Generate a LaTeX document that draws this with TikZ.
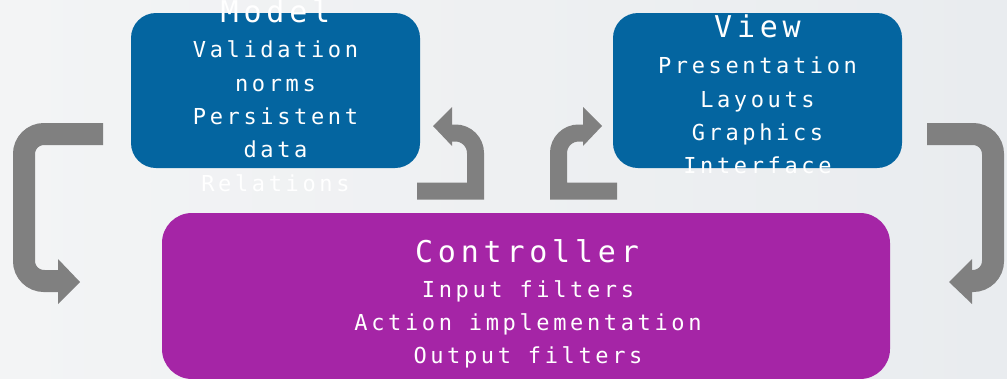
\documentclass[tikz,border=0pt]{standalone}
\usepackage{fontspec}
\newfontfamily\monoitem[LetterSpace=16.5]{DejaVu Sans Mono}
\newfontfamily\monotitle[LetterSpace=16]{DejaVu Sans Mono}
\definecolor{mvcblue}{RGB}{4,101,160}
\definecolor{mvcpurple}{RGB}{165,37,166}
\definecolor{arrowgray}{RGB}{128,128,128}
\definecolor{bgA}{RGB}{243,244,245}
\definecolor{bgB}{RGB}{233,236,239}
\tikzset{
  bluebox/.style={draw=none, fill=mvcblue, rounded corners=25pt, inner sep=0pt},
  purplebox/.style={draw=none, fill=mvcpurple, rounded corners=30pt, inner sep=0pt},
  titletext/.style={text=white, anchor=base, inner sep=0pt, font=\monotitle\fontsize{30}{32}\selectfont},
  itemtext/.style={text=white, anchor=base, inner sep=0pt, font=\monoitem\fontsize{22}{24}\selectfont},
  bigshaft/.style={draw=arrowgray, line width=22pt, line cap=butt, line join=miter},
  smallshaft/.style={draw=arrowgray, line width=17pt, line cap=butt, line join=miter},
  headfill/.style={fill=arrowgray, draw=none}
}
\begin{document}
\begin{tikzpicture}[x=1pt, y=-1pt]
\useasboundingbox (0,0) rectangle (1007,378);
\shade[left color=bgA, right color=bgB] (0,0) rectangle (1007,378);

% boxes
\node[bluebox, minimum width=289pt, minimum height=155pt] (model) at (275.5,90.5) {};
\node[bluebox, minimum width=289pt, minimum height=155pt] (view) at (757.5,90.5) {};
\node[purplebox, minimum width=728pt, minimum height=166pt] (ctrl) at (526,296) {};

% Model text
\node[titletext] (mT) at (275.5,22) {Model};
\node[itemtext] (m1) at (275.5,57) {Validation};
\node[itemtext] (m2) at (275.5,91) {norms};
\node[itemtext] (m3) at (275.5,124) {Persistent};
\node[itemtext] (m4) at (275.5,157) {data};
\node[itemtext] (m5) at (275.5,191) {Relations};

% View text
\node[titletext] (vT) at (757.5,37) {View};
\node[itemtext] (v1) at (757.5,73) {Presentation};
\node[itemtext] (v2) at (757.5,107) {Layouts};
\node[itemtext] (v3) at (757.5,140) {Graphics};
\node[itemtext] (v4) at (757.5,173) {Interface};

% Controller text
\node[titletext] (cT) at (527,262) {Controller};
\node[itemtext] (c1) at (528,297) {Input filters};
\node[itemtext] (c2) at (528,330) {Action implementation};
\node[itemtext] (c3) at (528,363) {Output filters};

% left big arrow
\coordinate (la1) at (103,134);
\coordinate (la2) at (24,134);
\coordinate (la3) at (24,281);
\coordinate (la4) at (59,281);
\draw[bigshaft, rounded corners=20pt] (la1) -- (la2) -- (la3) -- (la4);
\fill[headfill] (58,259) -- (80,282) -- (58,304) -- cycle;

% right big arrow
\coordinate (ra1) at (927,134);
\coordinate (ra2) at (993,134);
\coordinate (ra3) at (993,281);
\coordinate (ra4) at (971,281);
\draw[bigshaft, rounded corners=20pt] (ra1) -- (ra2) -- (ra3) -- (ra4);
\fill[headfill] (972,259) -- (949,282) -- (972,304) -- cycle;

% middle-left arrow (to Model)
\coordinate (ml1) at (417,191);
\coordinate (ml2) at (475.5,191);
\coordinate (ml3) at (475.5,153);
\coordinate (ml4) at (455.5,133);
\coordinate (ml5) at (451,133);
\draw[smallshaft] (ml1) -- (ml2) -- (ml3) .. controls (475.5,142) and (466.5,133) .. (ml4) -- (ml5);
\fill[headfill] (452,107) -- (433,126) -- (452,146) -- cycle;

% middle-right arrow (to View)
\coordinate (mr1) at (617,191);
\coordinate (mr2) at (558.5,191);
\coordinate (mr3) at (558.5,153);
\coordinate (mr4) at (578.5,133);
\coordinate (mr5) at (584,133);
\draw[smallshaft] (mr1) -- (mr2) -- (mr3) .. controls (558.5,142) and (567.5,133) .. (mr4) -- (mr5);
\fill[headfill] (583,107) -- (602,126) -- (583,146) -- cycle;
\end{tikzpicture}
\end{document}
